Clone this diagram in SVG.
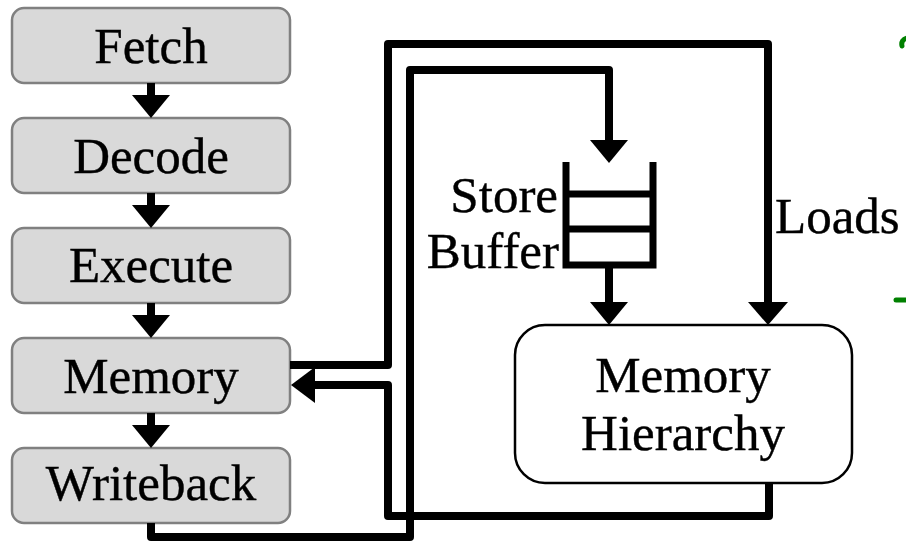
<svg xmlns="http://www.w3.org/2000/svg" width="906" height="544" viewBox="0 0 906 544">
  <style>
    .stage rect { fill: #d9d9d9; stroke: #808080; stroke-width: 2.5; }
    text { font-family: "Liberation Serif", "Times New Roman", serif; font-size: 51px; fill: #000; stroke: #000; stroke-width: 0.4; }
    .mid { text-anchor: middle; }
    .wire { fill: none; stroke: #000; stroke-width: 8; stroke-linejoin: round; }
    .head { fill: #000; }
    .brace { fill: none; stroke: #008000; stroke-width: 5; stroke-linecap: round; }
  </style>

  <!-- pipeline stages -->
  <g id="fetch" class="stage">
    <rect x="12" y="8" width="278" height="75" rx="12"/>
    <text class="mid" x="151" y="63">Fetch</text>
  </g>
  <g id="decode" class="stage">
    <rect x="12" y="118" width="278" height="75" rx="12"/>
    <text class="mid" x="151" y="173">Decode</text>
  </g>
  <g id="execute" class="stage">
    <rect x="12" y="228" width="278" height="75" rx="12"/>
    <text class="mid" x="151" y="282">Execute</text>
  </g>
  <g id="memory" class="stage">
    <rect x="12" y="338" width="278" height="75" rx="12"/>
    <text class="mid" x="151" y="393">Memory</text>
  </g>
  <g id="writeback" class="stage">
    <rect x="12" y="448" width="278" height="75" rx="12"/>
    <text class="mid" x="151" y="500">Writeback</text>
  </g>

  <!-- store buffer queue -->
  <g id="store-buffer">
    <path d="M566,162 V265 H653 V162" fill="none" stroke="#000" stroke-width="7"/>
    <line x1="566" y1="194" x2="653" y2="194" stroke="#000" stroke-width="7"/>
    <line x1="566" y1="229" x2="653" y2="229" stroke="#000" stroke-width="7"/>
    <text x="558" y="212" text-anchor="end">Store</text>
    <text x="559" y="268" text-anchor="end">Buffer</text>
  </g>

  <!-- memory hierarchy -->
  <g id="memory-hierarchy">
    <rect x="515" y="325" width="337" height="158" rx="30" fill="#fff" stroke="#000" stroke-width="2.5"/>
    <text class="mid" x="683" y="392">Memory</text>
    <text class="mid" x="683" y="450">Hierarchy</text>
  </g>

  <!-- side label -->
  <g id="loads-label">
    <text x="775" y="233">Loads</text>
  </g>

  <!-- connectors -->
  <g id="connectors">
    <!-- stage to stage -->
    <line class="wire" x1="151" y1="83" x2="151" y2="96"/>
    <polygon class="head" points="132,95 170,95 151,118"/>
    <line class="wire" x1="151" y1="193" x2="151" y2="206"/>
    <polygon class="head" points="132,205 170,205 151,228"/>
    <line class="wire" x1="151" y1="303" x2="151" y2="316"/>
    <polygon class="head" points="132,315 170,315 151,338"/>
    <line class="wire" x1="151" y1="413" x2="151" y2="426"/>
    <polygon class="head" points="132,425 170,425 151,448"/>

    <!-- loads: memory stage to hierarchy -->
    <path class="wire" d="M290,365 H388 V44 H768 V304"/>
    <polygon class="head" points="748,302 788,302 768,325"/>

    <!-- stores: writeback to store buffer -->
    <path class="wire" d="M151,523 V537 H410 V70 H609 V142"/>
    <polygon class="head" points="590,140 628,140 609,163"/>

    <!-- store buffer drains to hierarchy -->
    <line class="wire" x1="609" y1="265" x2="609" y2="304"/>
    <polygon class="head" points="590,302 628,302 609,325"/>

    <!-- response back to memory stage -->
    <path class="wire" d="M769,483 V516 H388 V385 H312"/>
    <polygon class="head" points="315,367 315,403 291,385"/>
  </g>

  <!-- brace ends at the right margin -->
  <path class="brace" d="M907,38 C903,39 901,42 902,46"/>
  <path class="brace" d="M896,300 H907"/>
</svg>
